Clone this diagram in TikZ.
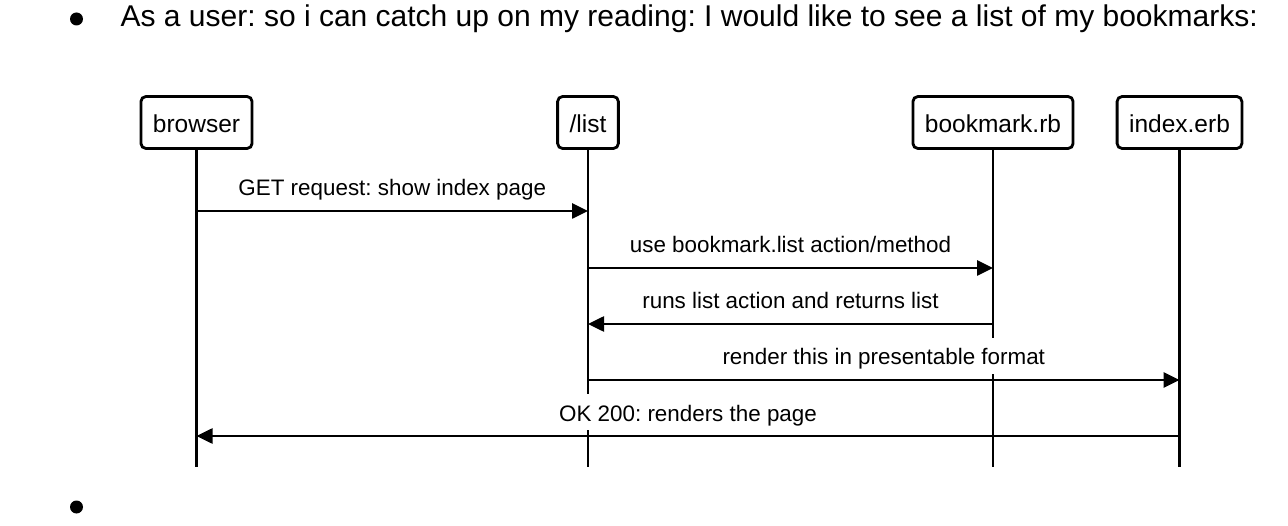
\documentclass[tikz,border=0pt]{standalone}
\usepackage{fontspec}
\setmainfont{Liberation Sans}
\usetikzlibrary{arrows.meta,positioning}
\frenchspacing

\begin{document}
\begin{tikzpicture}[x=1pt,y=-1pt]
	\useasboundingbox (0,0) rectangle (1288,526);
	\begin{scope}[line width=2.6pt,
		node distance=4cm,on grid,>={Triangle[length=16pt,width=15pt]},
		actor/.style={rectangle,draw,line width=2.8pt,rounded corners=5pt,minimum height=52pt,inner xsep=12pt,inner ysep=0pt,text height=21pt,text depth=0pt,font=\fontsize{24.5}{28}\selectfont},
		msg/.style={anchor=base,yshift=15pt,fill=white,inner xsep=4pt,inner ysep=5pt,text height=22pt,text depth=4pt,font=\fontsize{22.4}{26}\selectfont},
		dot/.style={circle,fill,inner sep=0pt,minimum size=13pt}]
		\node [dot]		(dot1)	at (76.5,19)	{};
		\node [dot]		(dot2)	at (76.5,507)	{};
		\node [anchor=base west,font=\fontsize{30}{36}\selectfont]	(title)	at (116,27)	{As a user: so i can catch up on my reading: I would like to see a list of my bookmarks:};
		\node [actor]		(browser)	at (196.5,122.5)	{browser};
		\node [actor]		(list)		[right=391.5pt of browser]	{/list};
		\node [actor]		(bookmark)	[right=405pt of list]	{bookmark.rb};
		\node [actor]		(indexerb)	[right=186.5pt of bookmark]	{index.erb};
		\coordinate (end) at (0,467);
		\coordinate (m1) at (0,211);
		\coordinate (m2) at (0,268);
		\coordinate (m3) at (0,324);
		\coordinate (m4) at (0,380);
		\coordinate (m5) at (0,436);
		\path
		(browser) edge		(browser |- end)
		(list) edge		(list |- end)
		(bookmark) edge		(bookmark |- end)
		(indexerb) edge		(indexerb |- end)
		;
		\path
		(browser |- m1) edge [->] node [msg] {GET request: show index page} (list |- m1)
		(list |- m2) edge [->] node [msg] {use bookmark.list action/method} (bookmark |- m2)
		(list |- m3) edge [<-] node [msg] {runs list action and returns list} (bookmark |- m3)
		(list |- m4) edge [->] node [msg] {render this in presentable format} (indexerb |- m4)
		(browser |- m5) edge [<-] node [msg] {OK 200: renders the page} (indexerb |- m5)
		;
	\end{scope}
\end{tikzpicture}
\end{document}
